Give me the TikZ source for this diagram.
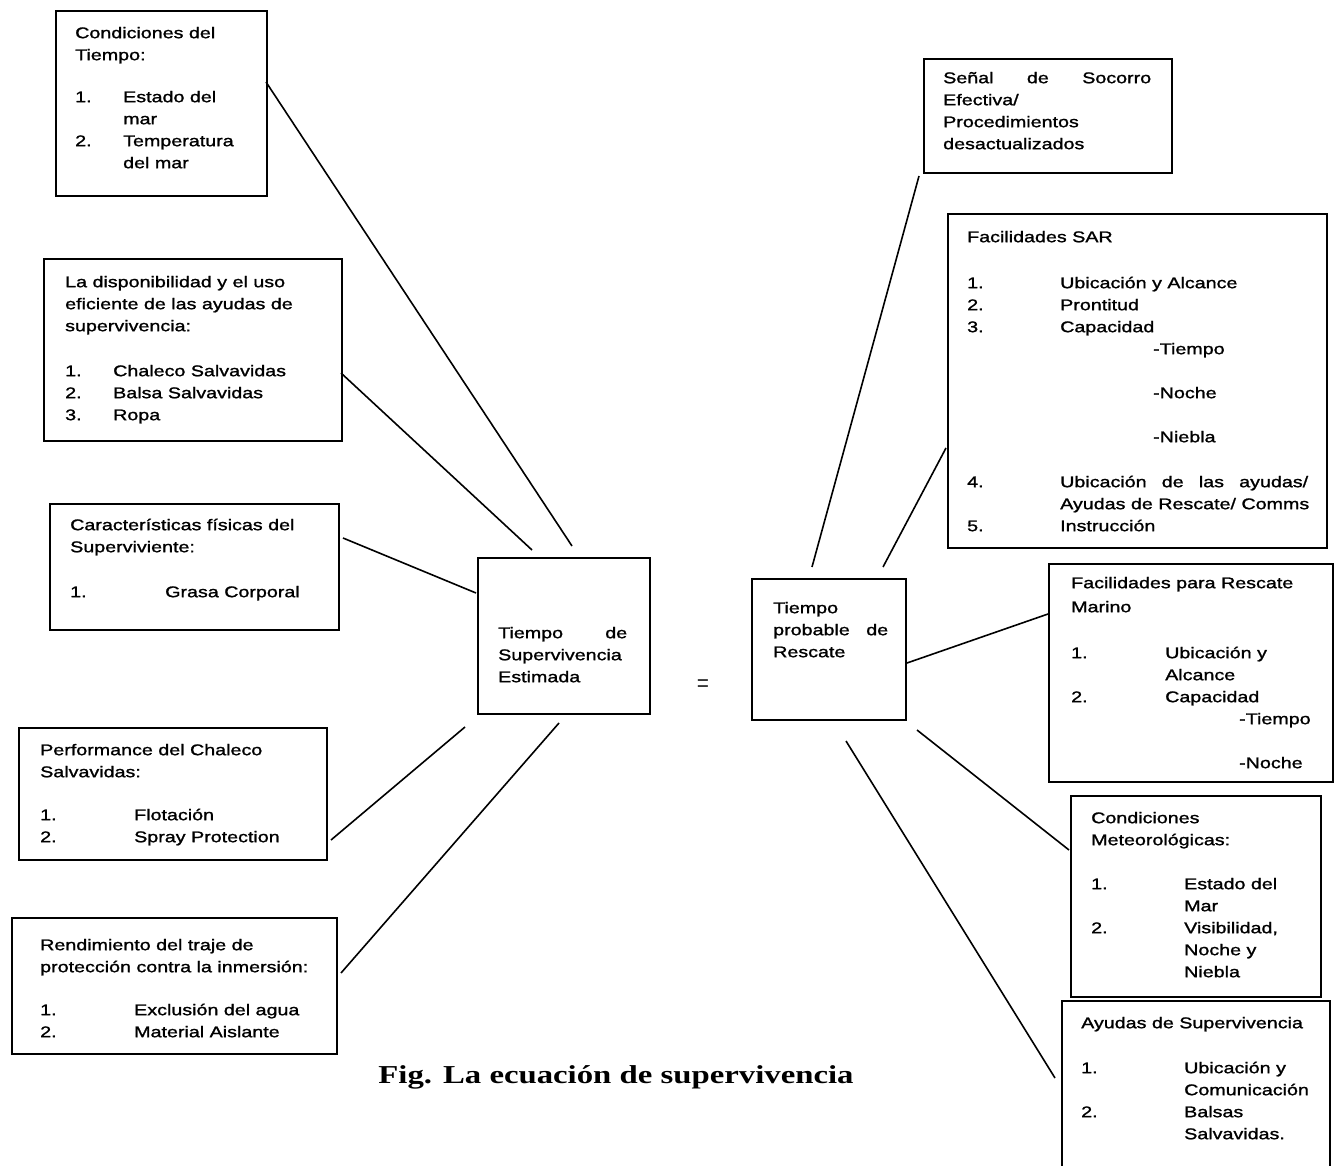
\documentclass[tikz,border=0pt]{standalone}
\usepackage{fontspec}
\newfontfamily\arialx[FakeStretch=1.27,FakeBold=1.3]{Liberation Sans}
\newfontfamily\eqfont[FakeStretch=0.72]{Liberation Serif}
\newfontfamily\timesx[FakeStretch=1.27]{Liberation Serif}
\newcommand\lnum[2]{\makebox[#1pt][l]{#2}}
\newcommand\lind[1]{\hspace*{#1pt}}
\tikzset{
  boxx/.style={draw, line width=1.6pt, rectangle, inner sep=0pt, anchor=north west},
  txt/.style={anchor=north west, inner sep=0pt, align=left, font=\arialx\fontsize{15.5}{22}\selectfont},
  conn/.style={line width=1.6pt},
}
\begin{document}
\begin{tikzpicture}[x=1pt,y=-1pt]
\useasboundingbox (0,0) rectangle (1339,1166);
\fill[white] (0,0) rectangle (1339,1166);
% ---------- boxes ----------
\node[boxx, minimum width=211pt, minimum height=185pt] (b1) at (55,10) {};
\node[boxx, minimum width=298pt, minimum height=182pt] (b2) at (43,258) {};
\node[boxx, minimum width=289pt, minimum height=126pt] (b3) at (49,503) {};
\node[boxx, minimum width=308pt, minimum height=132pt] (b4) at (18,727) {};
\node[boxx, minimum width=325pt, minimum height=136pt] (b5) at (11,917) {};
\node[boxx, minimum width=172pt, minimum height=156pt] (b6) at (477,557) {};
\node[boxx, minimum width=154pt, minimum height=141pt] (b7) at (751,578) {};
\node[boxx, minimum width=248pt, minimum height=114pt] (b8) at (923,58) {};
\node[boxx, minimum width=379pt, minimum height=334pt] (b9) at (947,213) {};
\node[boxx, minimum width=284pt, minimum height=218pt] (b10) at (1048,563) {};
\node[boxx, minimum width=250pt, minimum height=201pt] (b11) at (1070,795) {};
\node[boxx, minimum width=268pt, minimum height=190pt] (b12) at (1061,1000) {};
% ---------- texts ----------
\node[txt] (t1) at (75,22.6) {\strut Condiciones del\\Tiempo:\\[20pt]\lnum{48}{1.}Estado del\\\lind{48}mar\\\lnum{48}{2.}Temperatura\\\lind{48}del mar};
\node[txt] (t2) at (65,271.6) {\strut La disponibilidad y el uso\\eficiente de las ayudas de\\supervivencia:\\[23pt]\lnum{48}{1.}Chaleco Salvavidas\\\lnum{48}{2.}Balsa Salvavidas\\\lnum{48}{3.}Ropa};
\node[txt] (t3) at (70,514.6) {\strut Características físicas del\\Superviviente:\\[23pt]\lnum{95}{1.}Grasa Corporal};
\node[txt] (t4) at (40,739.6) {\strut Performance del Chaleco\\Salvavidas:\\[21pt]\lnum{94}{1.}Flotación\\\lnum{94}{2.}Spray Protection};
\node[txt] (t5) at (40,934.6) {\strut Rendimiento del traje de\\protección contra la inmersión:\\[21pt]\lnum{94}{1.}Exclusión del agua\\\lnum{94}{2.}Material Aislante};
\node[txt] (t6) at (498,622.6) {\strut\makebox[129pt]{Tiempo\hfill de}\\Supervivencia\\Estimada};
\node[txt] (t7) at (773,597.6) {\strut Tiempo\\\makebox[115pt]{probable\hfill de}\\Rescate};
\node[txt] (t8) at (943,67.6) {\strut\makebox[208pt]{Señal\hfill de\hfill Socorro}\\Efectiva/\\Procedimientos\\desactualizados};
\node[txt] (t9) at (967,226.6) {\strut Facilidades SAR\\[24pt]\lnum{93}{1.}Ubicación y Alcance\\\lnum{93}{2.}Prontitud\\\lnum{93}{3.}Capacidad\\\lind{186}-Tiempo\\[22pt]\lind{186}-Noche\\[22pt]\lind{186}-Niebla\\[23pt]\lnum{93}{4.}\makebox[248pt]{Ubicación\hfill de\hfill las\hfill ayudas/}\\\lind{93}Ayudas de Rescate/ Comms\\\lnum{93}{5.}Instrucción};
\node[txt] (t10) at (1071,572.6) {\strut Facilidades para Rescate\\[2pt]Marino\\[24pt]\lnum{94}{1.}Ubicación y\\\lind{94}Alcance\\\lnum{94}{2.}Capacidad\\\lind{168}-Tiempo\\[22pt]\lind{168}-Noche};
\node[txt] (t11) at (1091,807.6) {\strut Condiciones\\Meteorológicas:\\[22pt]\lnum{93}{1.}Estado del\\\lind{93}Mar\\\lnum{93}{2.}Visibilidad,\\\lind{93}Noche y\\\lind{93}Niebla};
\node[txt] (t12) at (1081,1012.6) {\strut Ayudas de Supervivencia\\[23pt]\lnum{103}{1.}Ubicación y\\\lind{103}Comunicación\\\lnum{103}{2.}Balsas\\\lind{103}Salvavidas.};
% ---------- equal sign and caption ----------
\node[inner sep=0pt, font=\eqfont\fontsize{30}{34}\selectfont] (eq) at (703,687) {=};
\node[anchor=base, inner sep=0pt, font=\timesx\bfseries\fontsize{25.8}{30}\selectfont] (cap) at (616,1083) {Fig. La ecuación de supervivencia};
% ---------- connectors ----------
\coordinate (p1a) at (266,82);   \coordinate (p1b) at (572,546);
\coordinate (p2a) at (341,373);  \coordinate (p2b) at (532,550);
\coordinate (p3a) at (343,538);  \coordinate (p3b) at (476,593);
\coordinate (p4a) at (331,840);  \coordinate (p4b) at (465,727);
\coordinate (p5a) at (341,973);  \coordinate (p5b) at (559,723);
\coordinate (q1a) at (919,176);  \coordinate (q1b) at (812,567);
\coordinate (q2a) at (946,448);  \coordinate (q2b) at (883,567);
\coordinate (q3a) at (1048,614); \coordinate (q3b) at (907,663);
\coordinate (q4a) at (1069,850); \coordinate (q4b) at (917,730);
\coordinate (q5a) at (1055,1078);\coordinate (q5b) at (846,741);
\draw[conn] (p1a) -- (p1b);
\draw[conn] (p2a) -- (p2b);
\draw[conn] (p3a) -- (p3b);
\draw[conn] (p4a) -- (p4b);
\draw[conn] (p5a) -- (p5b);
\draw[conn] (q1a) -- (q1b);
\draw[conn] (q2a) -- (q2b);
\draw[conn] (q3a) -- (q3b);
\draw[conn] (q4a) -- (q4b);
\draw[conn] (q5a) -- (q5b);
\end{tikzpicture}
\end{document}
